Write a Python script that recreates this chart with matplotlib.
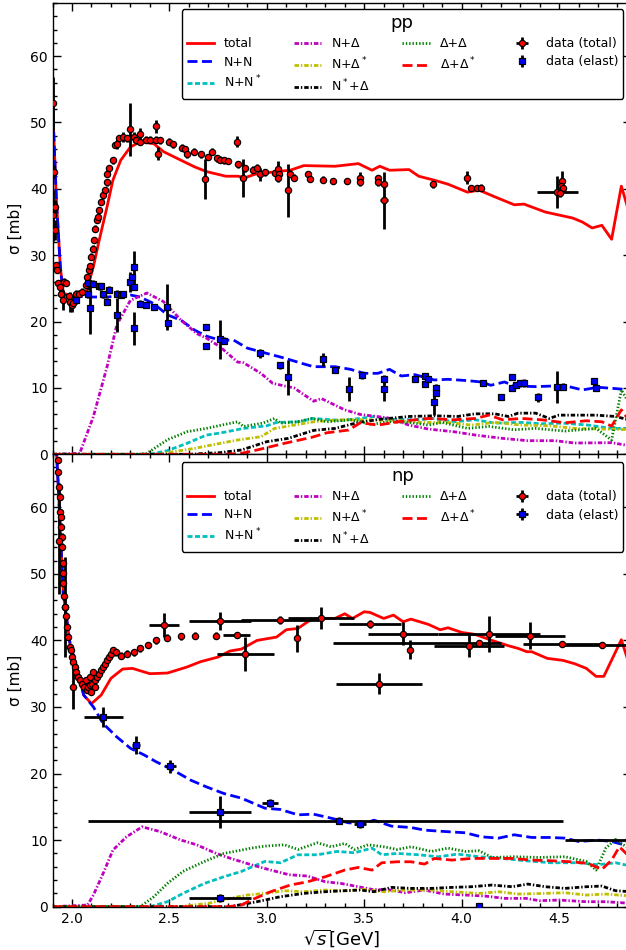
import matplotlib
matplotlib.use("Agg")
import matplotlib.pyplot as plt
from matplotlib.lines import Line2D
from matplotlib.ticker import MultipleLocator, FormatStrFormatter
import numpy as np

# ---------------- pp model curves ----------------
pp_total_x = [1.90,1.92,1.94,1.955,2.007,2.076,2.11,2.14,2.18,2.21,2.25,2.30,2.35,2.42,2.47,2.56,2.63,2.69,2.79,2.85,2.89,2.94,3.05,3.12,3.19,3.35,3.47,3.54,3.58,3.63,3.73,3.78,3.86,3.93,4.03,4.09,4.17,4.27,4.32,4.43,4.57,4.62,4.67,4.72,4.77,4.82,4.87]
pp_total_y = [53,38.3,28.3,24.3,23.7,24.7,28.3,32.3,37.3,41.3,44.3,46.3,47.1,46.8,45.6,44.3,43.3,42.6,41.9,41.9,41.7,42.2,42.6,42.8,43.5,43.4,43.8,42.8,43.4,42.8,42.9,41.9,41.3,40.7,39.5,39.8,38.8,37.6,37.7,36.5,35.6,35.0,34.1,34.5,32.4,40.4,35.4]

pp_nn_x = [1.90,1.92,1.94,1.955,2.007,2.10,2.18,2.30,2.35,2.42,2.49,2.56,2.63,2.69,2.76,2.83,2.90,3.00,3.09,3.18,3.24,3.35,3.43,3.50,3.57,3.63,3.69,3.76,3.86,3.93,4.03,4.10,4.15,4.22,4.27,4.38,4.48,4.55,4.62,4.70,4.79,4.87]
pp_nn_y = [53,38.3,28.3,24.0,23.8,23.7,23.7,24.0,23.7,22.7,21.0,20.2,18.7,17.8,17.2,17.2,16.0,15.2,14.5,13.7,13.2,13.2,12.8,12.2,12.2,12.8,11.8,12.0,11.2,11.3,11.1,10.9,10.4,10.9,10.3,10.2,10.3,10.2,9.7,10.1,9.9,9.7]

pp_nns_x = [1.90,2.40,2.49,2.59,2.69,2.76,2.88,3.00,3.05,3.16,3.24,3.38,3.48,3.55,3.62,3.76,3.86,3.96,4.07,4.17,4.31,4.41,4.52,4.65,4.77,4.87]
pp_nns_y = [0,0,0.55,1.65,2.9,3.2,3.9,4.3,4.8,4.9,5.4,5.1,5.4,5.7,5.3,5.2,5.4,4.9,5.2,4.7,4.8,4.6,4.7,4.4,3.9,3.9]

pp_nd_x = [1.90,2.04,2.11,2.18,2.23,2.30,2.385,2.47,2.56,2.64,2.69,2.76,2.85,2.88,2.97,3.03,3.09,3.14,3.24,3.28,3.40,3.48,3.62,3.73,3.83,3.96,4.07,4.21,4.34,4.48,4.58,4.77,4.87]
pp_nd_y = [0,0.15,5.7,13.2,19.5,23.2,24.3,23.0,20.2,18.2,17.5,16.2,13.9,13.8,12.2,10.7,10.3,10.0,8.0,8.4,6.7,6.0,5.5,4.4,3.8,3.4,2.9,2.4,2.05,2.05,1.7,1.75,1.25]

pp_nds_x = [1.90,2.45,2.52,2.63,2.76,2.85,2.97,3.04,3.14,3.24,3.38,3.52,3.66,3.79,3.93,4.05,4.17,4.31,4.45,4.58,4.72,4.87]
pp_nds_y = [0,0,0.4,0.9,1.65,2.15,2.65,3.9,4.4,4.9,5.2,5.2,5.1,4.8,4.8,4.4,4.8,4.4,4.3,3.9,3.8,3.7]

pp_nsd_x = [1.90,2.60,2.76,2.87,3.00,3.11,3.24,3.35,3.47,3.59,3.73,3.86,3.98,4.07,4.17,4.24,4.29,4.38,4.45,4.50,4.69,4.79,4.87]
pp_nsd_y = [0,0,0.25,0.65,1.9,2.4,3.6,3.9,4.8,5.3,5.7,5.8,5.7,6.1,6.1,5.7,6.2,6.2,5.4,5.9,5.9,5.7,5.1]

pp_dd_x = [1.90,2.35,2.385,2.49,2.59,2.69,2.80,2.85,2.88,2.98,3.04,3.07,3.16,3.23,3.31,3.43,3.54,3.62,3.73,3.83,3.90,4.03,4.14,4.27,4.38,4.53,4.69,4.77,4.82,4.87]
pp_dd_y = [0,0,0.15,2.2,3.4,3.9,4.6,4.9,4.2,4.7,5.4,4.7,4.9,5.4,4.9,5.2,4.5,4.9,4.8,4.4,4.8,3.9,4.2,3.7,3.9,3.5,3.9,2.15,9.7,7.2]

pp_dds_x = [1.90,2.78,2.87,2.95,3.09,3.23,3.31,3.42,3.48,3.57,3.71,3.83,3.96,4.07,4.14,4.21,4.31,4.41,4.53,4.64,4.72,4.77,4.82,4.87]
pp_dds_y = [0,0,0.15,0.65,1.65,2.55,3.25,3.65,4.75,4.4,5.05,5.4,5.2,5.4,5.9,5.2,5.4,5.2,4.75,5.05,4.9,4.25,6.7,4.65]

# ---------------- pp data ----------------
pp_tot_x = [1.90,1.905,1.91,1.912,1.915,1.92,1.925,1.93,1.94,1.945,1.955,1.96,1.97,1.985,1.99,1.998,2.007,2.02,2.035,2.05,2.07,2.076,2.085,2.09,2.10,2.11,2.115,2.12,2.13,2.135,2.14,2.15,2.16,2.17,2.18,2.18,2.19,2.21,2.22,2.23,2.24,2.26,2.28,2.30,2.32,2.33,2.35,2.35,2.38,2.40,2.43,2.43,2.44,2.45,2.50,2.52,2.565,2.58,2.59,2.625,
            2.66,2.685,2.70,2.72,2.745,2.76,2.78,2.80,2.845,2.85,2.88,2.89,2.93,2.95,2.965,2.99,3.04,3.06,3.065,3.06,3.11,3.12,3.14,3.21,3.22,3.29,3.34,3.41,3.48,3.48,3.57,3.57,3.60,3.60,3.855,4.03,4.05,4.08,4.10,4.49,4.515,4.51,4.52,4.505]
pp_tot_y = [52.9,36.0,42.6,37.3,33.8,28.5,27.8,25.8,25.2,24.2,23.2,26.0,25.8,23.8,23.0,22.5,22.8,24.2,24.2,24.5,25.5,26.7,27.8,28.3,29.8,31.0,32.3,34.0,35.3,35.8,36.8,38.0,39.0,39.8,41.0,42.3,43.1,44.3,46.6,46.8,47.6,47.8,47.6,49.0,47.8,47.3,48.3,47.1,47.4,47.4,47.4,49.4,45.3,47.3,47.1,46.7,46.2,46.0,45.2,45.6,
            45.2,41.5,44.8,45.6,44.6,44.4,44.3,44.2,47.1,43.7,41.6,43.1,42.9,43.2,42.2,42.5,42.4,43.0,42.2,41.6,39.8,42.3,41.7,42.2,41.5,41.4,41.2,41.2,41.6,41.0,41.6,41.0,40.7,38.3,40.7,41.7,40.1,40.1,40.2,39.5,41.2,40.4,40.2,39.3]
pp_tot_yerr = [4.0,3.8,1.0,1.0,1.5,0.5,0.5,0.5,1.0,0.5,1.5,0.5,0.5,0.5,1.5,1.0,0.5,0.5,0.5,0.5,0.5,0.5,0.5,0.5,0.5,0.5,0.5,0.5,0.5,0.5,0.5,0.5,0.5,0.5,0.5,0.5,0.5,0.5,0.5,0.8,0.5,0.8,0.5,4.0,0.8,0.5,0.8,0.5,0.5,0.5,0.5,1.0,1.0,0.5,0.5,0.5,0.5,0.5,0.5,0.5,
               0.5,3.0,0.5,0.5,0.5,0.5,0.5,0.5,0.8,0.5,2.9,0.5,0.5,0.5,1.0,0.5,0.5,1.2,0.5,0.5,4.0,0.5,0.5,0.5,0.5,0.5,0.5,0.5,1.0,0.5,0.5,0.5,0.5,4.3,0.5,1.0,0.5,0.5,0.5,2.4,1.5,0.5,0.5,0.5]
pp_tot_xerr = [0.0]*len(pp_tot_x)
pp_tot_xerr[pp_tot_x.index(4.49)] = 0.105
pp_tot_xerr[93] = 0.02

pp_el_x = [2.02,2.08,2.08,2.09,2.11,2.14,2.15,2.16,2.18,2.19,2.23,2.23,2.25,2.26,2.30,2.31,2.32,2.32,2.32,2.35,2.38,2.42,2.49,2.495,2.69,2.69,2.76,2.78,2.965,3.07,3.11,3.29,3.35,3.42,3.49,3.60,3.60,3.76,3.81,3.81,3.83,3.86,3.87,3.87,4.11,4.20,4.26,4.26,4.28,4.30,4.32,4.39,4.49,4.52,4.68,4.69]
pp_el_y = [23.2,25.8,24.1,22.0,25.7,25.3,25.3,24.1,23.0,24.8,24.2,21.0,24.0,24.1,26.0,26.7,28.2,25.2,19.0,22.7,22.5,22.2,22.2,19.8,19.2,16.3,17.3,17.1,15.2,13.4,11.6,14.3,12.7,9.9,11.9,11.4,9.9,11.4,11.8,10.6,11.4,7.9,10.0,9.2,10.8,8.7,11.7,10.0,10.4,10.8,10.8,8.6,10.1,10.2,11.0,10.0]
pp_el_yerr = [0.5,1.0,0.5,3.9,0.5,0.5,0.5,0.5,0.5,0.5,0.5,2.5,0.5,0.5,1.5,0.5,2.5,0.5,2.5,0.5,0.5,0.5,3.4,0.5,0.5,0.5,3.0,0.5,0.7,0.5,2.6,1.0,0.5,1.8,0.5,0.6,1.8,0.4,0.4,0.4,0.4,2.0,0.6,0.4,0.4,0.4,0.4,0.4,0.4,0.4,0.6,0.7,2.4,0.5,0.4,0.4]

# ---------------- np model curves ----------------
np_total_x = [1.90,1.93,1.955,1.99,2.024,2.06,2.10,2.15,2.20,2.26,2.31,2.40,2.49,2.59,2.66,2.75,2.81,2.87,2.95,3.05,3.10,3.16,3.23,3.28,3.35,3.40,3.44,3.50,3.53,3.60,3.65,3.70,3.74,3.83,3.89,3.93,4.00,4.07,4.155,4.24,4.29,4.335,4.36,4.44,4.52,4.58,4.64,4.69,4.73,4.82,4.87]
np_total_y = [80,63,47.1,39.5,36.0,31.8,30.5,31.8,34.3,35.7,35.8,35.0,35.1,36.0,36.8,37.5,38.4,38.7,40.0,40.5,41.6,41.8,43.2,43.3,43.3,44.0,43.3,44.3,44.2,43.3,43.8,42.8,43.2,42.4,41.6,41.9,41.2,40.9,40.0,39.2,38.8,38.3,38.3,37.3,37.0,36.5,35.8,34.6,34.6,40.1,35.5]

np_nn_x = [1.90,1.93,1.955,1.99,2.024,2.06,2.11,2.16,2.23,2.30,2.37,2.43,2.52,2.61,2.69,2.78,2.87,2.95,2.99,3.07,3.16,3.24,3.33,3.42,3.50,3.55,3.64,3.74,3.81,3.91,4.02,4.10,4.19,4.27,4.36,4.45,4.53,4.60,4.70,4.77,4.82,4.87]
np_nn_y = [80,63,47.1,39.5,36.0,31.8,30.0,27.5,25.5,23.8,22.8,21.8,20.5,19.0,18.0,17.0,16.3,15.3,14.8,14.6,13.8,13.9,13.3,12.6,12.5,13.0,12.1,11.9,11.5,11.3,11.1,10.5,10.3,10.8,10.4,10.4,10.3,9.8,10.0,9.8,9.4,9.0]

np_nns_x = [1.90,2.40,2.49,2.57,2.68,2.78,2.87,2.95,2.99,3.07,3.16,3.26,3.36,3.45,3.54,3.59,3.67,3.78,3.88,3.98,4.09,4.19,4.33,4.46,4.60,4.70,4.79,4.87]
np_nns_y = [0,0,0.75,2.0,3.5,4.5,5.3,6.3,6.8,6.6,7.8,7.8,8.3,8.1,8.8,7.8,8.0,7.8,7.5,7.9,7.5,7.3,6.9,6.6,6.6,6.3,6.6,6.1]

np_nd_x = [1.90,2.08,2.11,2.16,2.21,2.28,2.36,2.45,2.56,2.64,2.74,2.81,2.92,3.02,3.115,3.21,3.30,3.38,3.47,3.54,3.64,3.71,3.81,3.91,4.02,4.12,4.22,4.33,4.40,4.50,4.64,4.74,4.87]
np_nd_y = [0,0.25,1.75,5.0,8.5,10.5,12.0,11.3,10.0,9.3,8.0,7.3,6.3,5.5,4.8,4.6,3.75,3.5,3.0,2.6,2.5,2.1,2.5,1.9,1.75,1.6,1.25,1.25,0.9,1.0,0.75,0.75,0.5]

np_nds_x = [1.90,2.55,2.70,2.81,2.90,2.99,3.09,3.19,3.30,3.40,3.50,3.60,3.71,3.845,3.95,4.09,4.19,4.29,4.43,4.53,4.64,4.74,4.87]
np_nds_y = [0,0,0.5,1.25,1.75,2.0,2.4,2.25,2.5,2.4,2.6,2.25,2.5,2.5,2.25,2.0,2.25,1.9,2.0,2.1,1.75,1.9,1.6]

np_nsd_x = [1.90,2.81,2.95,3.07,3.19,3.30,3.40,3.48,3.55,3.64,3.74,3.845,3.95,4.05,4.155,4.26,4.34,4.43,4.53,4.64,4.72,4.79,4.87]
np_nsd_y = [0,0,0.75,1.5,2.0,2.25,2.4,2.5,2.25,2.9,2.75,2.75,2.9,3.0,3.25,3.0,3.4,3.0,2.75,3.0,3.1,2.4,2.25]

np_dd_x = [1.90,2.35,2.42,2.49,2.57,2.68,2.78,2.87,2.92,2.99,3.09,3.16,3.26,3.33,3.40,3.45,3.52,3.60,3.67,3.74,3.845,3.93,4.02,4.09,4.155,4.27,4.40,4.53,4.64,4.69,4.74,4.79,4.87]
np_dd_y = [0,0,1.5,3.5,5.3,6.8,8.0,8.5,8.8,9.1,9.3,8.6,9.6,9.0,9.5,8.6,9.3,9.0,8.6,9.0,8.3,8.8,8.3,8.4,7.4,7.5,7.4,7.5,6.8,5.5,8.8,10.1,8.5]

np_dds_x = [1.90,2.80,2.87,2.92,3.02,3.12,3.21,3.30,3.40,3.47,3.54,3.59,3.67,3.74,3.81,3.86,3.95,4.05,4.155,4.26,4.36,4.46,4.56,4.65,4.72,4.77,4.81,4.87]
np_dds_y = [0,0,0.25,1.0,2.25,3.25,3.75,4.5,5.5,5.9,5.5,6.6,6.75,6.75,6.4,7.25,7.0,7.25,7.25,7.25,7.0,6.9,6.75,6.5,5.6,7.0,9.0,7.25]

# ---------------- np data ----------------
np_tot_x = [1.93,1.93,1.935,1.94,1.94,1.943,1.945,1.95,1.95,1.952,1.955,1.955,1.96,1.965,1.97,1.972,1.98,1.99,1.993,2.00,2.007,2.015,2.02,2.03,2.04,2.05,2.06,2.075,2.08,2.09,2.105,2.12,2.13,2.14,2.15,2.16,2.17,2.18,2.19,2.20,2.21,2.225,2.25,2.28,2.32,2.35,2.39,2.43,2.49,2.56,2.63,2.74,2.845,
            1.935,1.965,2.007,2.07,2.09,2.10,2.11,2.12,
            2.47,2.76,2.89,3.07,3.155,3.28,3.53,3.575,3.70,3.735,4.04,4.09,4.14,4.35,4.515,4.72]
np_tot_y = [67.1,65.3,63.1,61.6,59.3,58.6,57.1,55.6,54.1,51.6,50.1,48.6,46.6,45.0,43.6,42.0,40.5,39.0,38.5,37.5,36.8,36.0,35.3,34.5,34.0,33.5,33.0,32.6,33.0,33.3,33.5,34.0,34.5,35.0,35.5,36.0,36.5,37.0,37.5,38.0,38.5,38.2,37.7,38.0,38.2,38.8,39.3,40.0,40.4,40.6,40.7,40.7,40.8,
            55.0,45.0,33.0,34.0,34.5,32.3,35.2,33.0,
            42.3,42.9,38.0,43.0,40.3,43.3,42.4,33.5,41.0,38.6,39.2,39.6,41.0,40.7,39.4,39.3]
np_tot_yerr = [0.5]*53 + [8.0,7.5,3.3,0.5,0.5,0.5,0.5,0.5] + [1.75,1.3,2.55,0.6,2.0,1.65,0.6,1.6,1.7,1.45,1.75,0.3,2.7,2.0,0.4,0.4]
np_tot_xlo = [0.0]*52 + [0.07] + [0.0]*8 + [0.077,0.16,0.145,0.2,0.0,0.17,0.16,0.22,0.18,0.0,0.18,0.75,0.26,0.18,0.2,0.2]
np_tot_xhi = [0.0]*52 + [0.07] + [0.0]*8 + [0.077,0.16,0.145,0.2,0.0,0.17,0.16,0.22,0.18,0.0,0.18,0.11,0.26,0.18,0.2,0.2]

np_el_x = [2.16,2.33,2.505,2.76,3.015,3.37,3.48,2.76,4.09,4.86]
np_el_y = [28.5,24.3,21.1,14.2,15.6,12.9,12.4,1.25,0.1,10.0]
np_el_yerr = [1.5,1.3,1.0,2.4,0.6,0.5,0.6,0.6,0.0,0.0]
np_el_xlo = [0.10,0.02,0.03,0.16,0.04,1.29,0.03,0.16,0.0,0.33]
np_el_xhi = [0.10,0.02,0.03,0.16,0.04,1.15,0.03,0.16,0.0,0.33]

labels = ['total', 'N+N', 'N+N$^*$', 'N+Δ', 'N+Δ$^*$', 'N$^*$+Δ', 'Δ+Δ', 'Δ+Δ$^*$', ' ', 'data (total)', 'data (elast)', ' ']

# ---------------- figure ----------------
plt.rcParams['font.family'] = ['DejaVu Sans']
plt.rcParams['mathtext.fontset'] = 'dejavusans'
W, H = 626, 950
fig = plt.figure(figsize=(W/100, H/100), dpi=100)

ax_left = 52.5 / W
ax_w = 578.6 / W
ax1 = fig.add_axes([ax_left, (H-454.3)/H, ax_w, 451.3/H])
ax2 = fig.add_axes([ax_left, (H-906.7)/H, ax_w, 452.7/H])

LW = 2.0
styles = dict(
    total=dict(color='#ff0000', dashes=None),
    nn=dict(color='#0000ff', dashes=(3.6, 1.6)),
    nns=dict(color='#00bfbf', dashes=(1.8, 0.9)),
    nd=dict(color='#bf00bf', dashes=(1.6, 0.7, 0.5, 0.7)),
    nds=dict(color='#bfbf00', dashes=(1.6, 0.7, 0.5, 0.7)),
    nsd=dict(color='#000000', dashes=(1.6, 0.7, 0.5, 0.7)),
    dd=dict(color='#008000', dashes=(0.5, 0.7)),
    dds=dict(color='#ff0000', dashes=(3.6, 1.6)),
)


def curve(ax, x, y, key):
    st = styles[key]
    kw = dict(color=st['color'], lw=LW)
    if st['dashes'] is not None:
        ln, = ax.plot(x, y, dashes=st['dashes'], **kw)
    else:
        ln, = ax.plot(x, y, ls='-', **kw)
    return ln


def draw_panel(ax, curves, tot, el, title, legend_top_px):
    handles = []
    for (x, y, key) in curves:
        handles.append(curve(ax, x, y, key))
    tx, ty, txerr, tyerr = tot
    ex, ey, exerr, eyerr = el
    h_tot = ax.errorbar(tx, ty, xerr=txerr, yerr=tyerr, fmt='o', ms=4.5, mfc='#ff0000', mec='black',
                        mew=0.9, ecolor='black', elinewidth=2, capsize=0, zorder=5)
    h_el = ax.errorbar(ex, ey, xerr=exerr, yerr=eyerr, fmt='s', ms=4.5, mfc='#0000ff', mec='black',
                       mew=0.9, ecolor='black', elinewidth=2, capsize=0, zorder=5)
    blank = Line2D([], [], ls='none')
    hs = handles + [blank, h_tot, h_el, blank]
    leg = ax.legend(hs, labels, ncol=4, loc='upper right', fontsize=9, title=title,
                    title_fontsize=13, bbox_to_anchor=(623/W, 1 - legend_top_px/H),
                    bbox_transform=fig.transFigure, borderaxespad=0, fancybox=True,
                    framealpha=1, edgecolor='black', handlelength=2.2, handletextpad=0.8,
                    columnspacing=2.6, labelspacing=0.42, borderpad=0.4)
    leg.get_frame().set_linewidth(1.0)
    leg.set_zorder(10)

    ax.set_xlim(1.9, 4.87)
    ax.set_ylim(0, 68)
    ax.xaxis.set_major_locator(MultipleLocator(0.5))
    ax.xaxis.set_minor_locator(MultipleLocator(0.1))
    ax.yaxis.set_major_locator(MultipleLocator(10))
    ax.yaxis.set_minor_locator(MultipleLocator(2))
    ax.xaxis.set_major_formatter(FormatStrFormatter('%.1f'))
    ax.tick_params(which='both', direction='in', top=True, right=True, labelsize=10)
    ax.tick_params(which='major', length=6, width=1)
    ax.tick_params(which='minor', length=3, width=1)
    for s in ax.spines.values():
        s.set_linewidth(1.0)
    ax.set_ylabel('σ [mb]', fontsize=11, labelpad=5)


pp_curves = [(pp_total_x, pp_total_y, 'total'), (pp_nn_x, pp_nn_y, 'nn'), (pp_nns_x, pp_nns_y, 'nns'),
             (pp_nd_x, pp_nd_y, 'nd'), (pp_nds_x, pp_nds_y, 'nds'), (pp_nsd_x, pp_nsd_y, 'nsd'),
             (pp_dd_x, pp_dd_y, 'dd'), (pp_dds_x, pp_dds_y, 'dds')]
np_curves = [(np_total_x, np_total_y, 'total'), (np_nn_x, np_nn_y, 'nn'), (np_nns_x, np_nns_y, 'nns'),
             (np_nd_x, np_nd_y, 'nd'), (np_nds_x, np_nds_y, 'nds'), (np_nsd_x, np_nsd_y, 'nsd'),
             (np_dd_x, np_dd_y, 'dd'), (np_dds_x, np_dds_y, 'dds')]

draw_panel(ax1, pp_curves,
           (pp_tot_x, pp_tot_y, pp_tot_xerr, pp_tot_yerr),
           (pp_el_x, pp_el_y, None, pp_el_yerr), 'pp', 9)
draw_panel(ax2, np_curves,
           (np_tot_x, np_tot_y, [np_tot_xlo, np_tot_xhi], np_tot_yerr),
           (np_el_x, np_el_y, [np_el_xlo, np_el_xhi], np_el_yerr), 'np', 462)

ax1.tick_params(labelbottom=False)
ax2.set_xlabel('$\\sqrt{s}$[GeV]', fontsize=13, labelpad=1)

fig.savefig('out.png', dpi=100)
